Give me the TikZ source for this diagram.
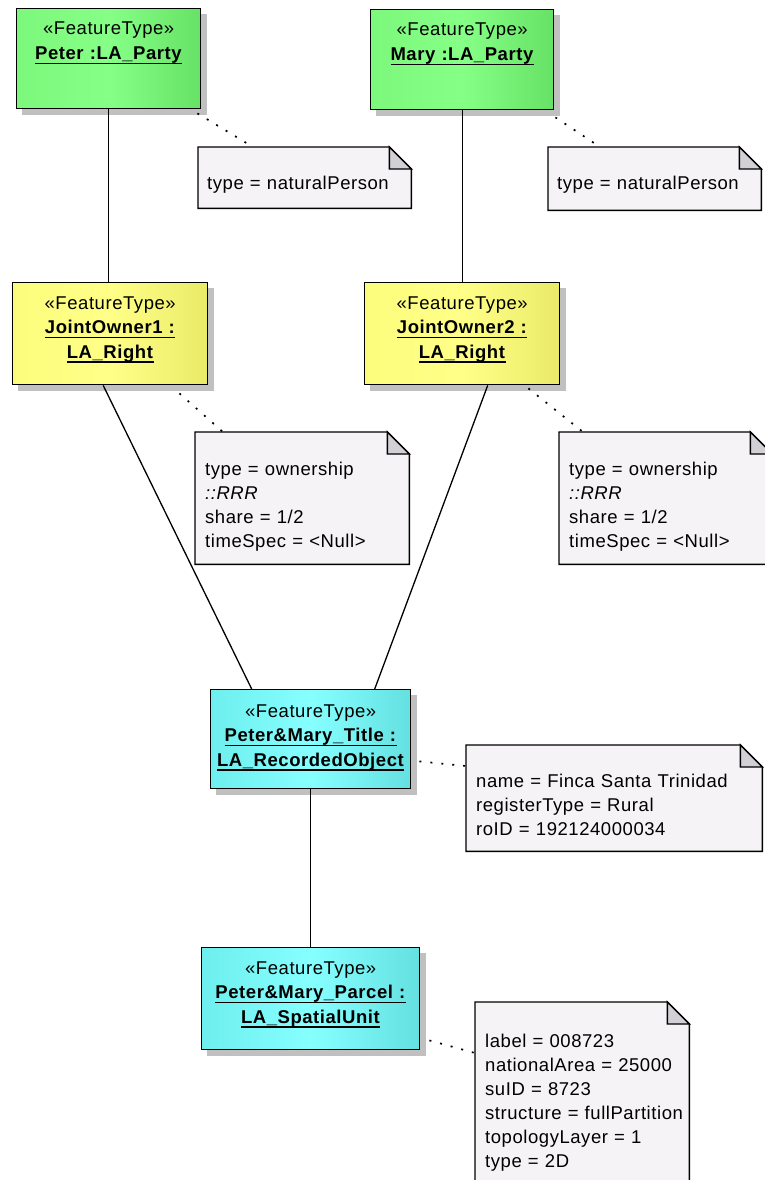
\documentclass[tikz,border=0pt]{standalone}
\usepackage{fontspec}
\setmainfont{Liberation Sans}[LetterSpace=3]
\pgfdeclarelayer{under}
\pgfsetlayers{under,main}

\definecolor{grnL}{RGB}{124,248,124}
\definecolor{grnM}{RGB}{134,255,134}
\definecolor{grnR}{RGB}{102,226,102}
\definecolor{ylwL}{RGB}{252,252,124}
\definecolor{ylwM}{RGB}{255,255,136}
\definecolor{ylwR}{RGB}{234,234,104}
\definecolor{cynL}{RGB}{110,238,238}
\definecolor{cynM}{RGB}{134,255,255}
\definecolor{cynR}{RGB}{100,224,224}
\definecolor{notefill}{RGB}{246,243,246}
\definecolor{foldfill}{RGB}{210,208,213}
\definecolor{shadowgray}{RGB}{192,192,192}

% underline at a fixed distance below the baseline
\newcommand{\undl}[1]{\leavevmode\setbox0=\hbox{#1}\rlap{\rule[-4.6pt]{\wd0}{1.2pt}}\box0}

\tikzset{
  x=1pt, y=1pt,
  objbox/.style={draw=black, line width=1.4pt, rectangle, inner sep=0pt, anchor=north west},
  greenbox/.style={objbox, left color=grnL, right color=grnR, middle color=grnM},
  yellowbox/.style={objbox, left color=ylwL, right color=ylwR, middle color=ylwM},
  cyanbox/.style={objbox, left color=cynL, right color=cynR, middle color=cynM},
  boxtext/.style={anchor=base, inner sep=0pt, align=center,
    font=\fontsize{18.5}{24.5}\selectfont},
  notearea/.style={draw=none, rectangle, inner sep=0pt, anchor=north west},
  notetext/.style={anchor=base west, inner sep=0pt, align=left, text width=290pt,
    font=\fontsize{18.5}{24}\selectfont},
  link/.style={draw=black, line width=1.3pt},
  notelink/.style={draw=black, line width=1.7pt, dash pattern=on 2pt off 9pt},
}

% gray offset shadow behind a box node
\newcommand{\boxshadow}[1]{%
  \begin{pgfonlayer}{under}
    \fill[shadowgray] ([shift={(6,-6)}]#1.south west) rectangle ([shift={(6,-6)}]#1.north east);
  \end{pgfonlayer}}

% note outline with folded corner
\newcommand{\noteshape}[1]{%
  \begin{pgfonlayer}{under}
    \filldraw[fill=notefill, draw=black, line width=1.4pt, line join=miter]
      (#1.south west) -- (#1.north west) -- ([xshift=-22]#1.north east)
      -- ([yshift=-22]#1.north east) -- (#1.south east) -- cycle;
    \filldraw[fill=foldfill, draw=black, line width=1.4pt, line join=miter]
      ([xshift=-22]#1.north east) -- ([xshift=-22,yshift=-22]#1.north east)
      -- ([yshift=-22]#1.north east) -- cycle;
  \end{pgfonlayer}}

\begin{document}
\begin{tikzpicture}
  \useasboundingbox (0,0) rectangle (764,-1180);
  \begin{pgfonlayer}{under}
    \fill[white] (0,0) rectangle (764,-1180);
  \end{pgfonlayer}
  \clip (0,0) rectangle (764,-1180);

  % ---- object boxes ----
  \node[greenbox, minimum width=184, minimum height=100] (peter) at (16,-8) {};
  \node[greenbox, minimum width=183, minimum height=100] (mary) at (370,-9) {};
  \node[yellowbox, minimum width=195, minimum height=102] (jo1) at (12,-282) {};
  \node[yellowbox, minimum width=195, minimum height=102] (jo2) at (364,-282) {};
  \node[cyanbox, minimum width=200, minimum height=99] (title) at (210,-689) {};
  \node[cyanbox, minimum width=218, minimum height=102] (parcel) at (201,-947) {};

  \foreach \b in {peter,mary,jo1,jo2,title,parcel} {\boxshadow{\b}}

  \node[boxtext, text width=184] (petert) at ([yshift=-27]peter.north)
    {«FeatureType»\\\undl{\textbf{Peter :LA\_Party}}};
  \node[boxtext, text width=183] (maryt) at ([yshift=-27]mary.north)
    {«FeatureType»\\\undl{\textbf{Mary :LA\_Party}}};
  \node[boxtext, text width=195] (jo1t) at ([yshift=-27]jo1.north)
    {«FeatureType»\\\undl{\textbf{JointOwner1 :}}\\\undl{\textbf{LA\_Right}}};
  \node[boxtext, text width=195] (jo2t) at ([yshift=-27]jo2.north)
    {«FeatureType»\\\undl{\textbf{JointOwner2 :}}\\\undl{\textbf{LA\_Right}}};
  \node[boxtext, text width=200] (titlet) at ([yshift=-28]title.north)
    {«FeatureType»\\\undl{\textbf{Peter\&Mary\_Title :}}\\\undl{\textbf{LA\_RecordedObject}}};
  \node[boxtext, text width=218] (parcelt) at ([yshift=-27]parcel.north)
    {«FeatureType»\\\undl{\textbf{Peter\&Mary\_Parcel :}}\\\undl{\textbf{LA\_SpatialUnit}}};

  % ---- notes ----
  \node[notearea, minimum width=213, minimum height=61] (n1) at (198,-147) {};
  \node[notearea, minimum width=213, minimum height=63] (n2) at (548,-147) {};
  \node[notearea, minimum width=214, minimum height=132] (n3) at (195,-432) {};
  \node[notearea, minimum width=213, minimum height=132] (n4) at (559,-432) {};
  \node[notearea, minimum width=296, minimum height=106] (n5) at (466,-745) {};
  \node[notearea, minimum width=214, minimum height=200] (n6) at (475,-1002) {};
  \foreach \n in {n1,n2,n3,n4,n5,n6} {\noteshape{\n}}

  \node[notetext] (n1t) at ([shift={(9,-42)}]n1.north west) {type = naturalPerson};
  \node[notetext] (n2t) at ([shift={(9,-42)}]n2.north west) {type = naturalPerson};
  \node[notetext] (n3t) at ([shift={(10,-43.5)}]n3.north west)
    {type = ownership\\\textit{::RRR}\\share = 1/2\\timeSpec = <Null>};
  \node[notetext] (n4t) at ([shift={(10,-43.5)}]n4.north west)
    {type = ownership\\\textit{::RRR}\\share = 1/2\\timeSpec = <Null>};
  \node[notetext] (n5t) at ([shift={(10,-42.5)}]n5.north west)
    {name = Finca Santa Trinidad\\registerType = Rural\\roID = 192124000034};
  \node[notetext] (n6t) at ([shift={(10,-45.5)}]n6.north west)
    {label = 008723\\nationalArea = 25000\\suID = 8723\\structure = fullPartition\\topologyLayer = 1\\type = 2D};

  % ---- links between objects ----
  \draw[link] (peter.south) -- (peter.south |- jo1.north);
  \draw[link] (mary.south) -- (mary.south |- jo2.north);
  \draw[link] ([xshift=-7]jo1.south) -- ([xshift=-59]title.north);
  \draw[link] ([xshift=25.5]jo2.south) -- ([xshift=64]title.north);
  \draw[link] (title.south) -- (parcel.north);

  % ---- note attachments ----
  \draw[notelink] ([shift={(-4,-4)}]peter.south east) -- ([xshift=55]n1.north west);
  \draw[notelink] ([shift={(1,-7)}]mary.south east) -- ([xshift=52]n2.north west);
  \draw[notelink] ([shift={(-29,-8)}]jo1.south east) -- ([xshift=28]n3.north west);
  \draw[notelink] ([shift={(-32,-3)}]jo2.south east) -- ([xshift=24]n4.north west);
  \draw[notelink] ([shift={(8,28)}]title.south east) -- ([yshift=-21]n5.north west);
  \draw[notelink] ([shift={(9,10)}]parcel.south east) -- ([yshift=-51]n6.north west);
\end{tikzpicture}
\end{document}
